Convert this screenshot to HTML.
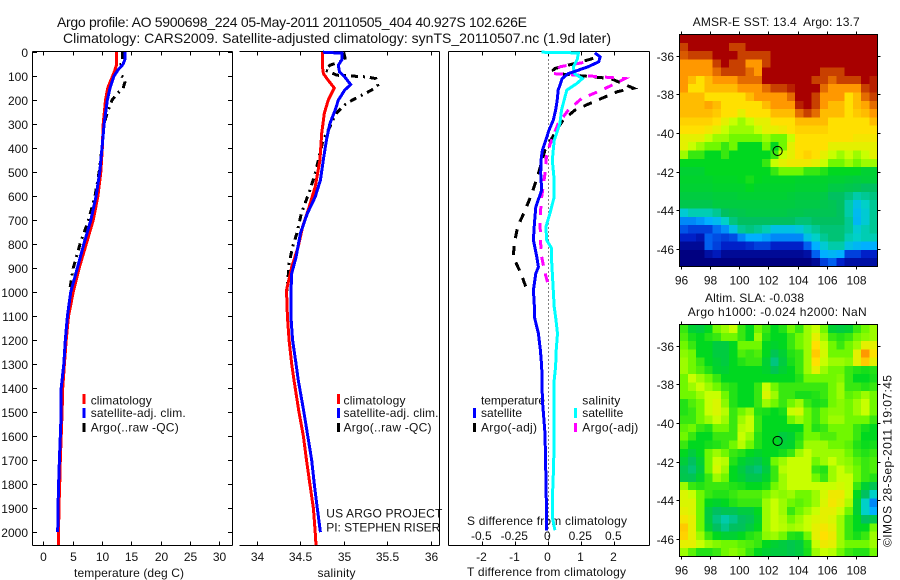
<!DOCTYPE html>
<html lang="en">
<head>
<meta charset="utf-8">
<title>Argo profile</title>
<style>
html,body{margin:0;padding:0;background:#fff;}
svg{display:block;font-family:"Liberation Sans",sans-serif;font-size:12px;fill:#000;}
text{fill:#111;}
</style>
</head>
<body>
<svg id="chart" width="900" height="580" viewBox="0 0 900 580" xmlns="http://www.w3.org/2000/svg">
<rect width="900" height="580" fill="#fff"/>
<text x="57" y="27" font-size="14" textLength="470" lengthAdjust="spacing">Argo profile: AO 5900698_224 05-May-2011 20110505_404 40.927S 102.626E</text>
<text x="63" y="43" font-size="14" textLength="548" lengthAdjust="spacing">Climatology: CARS2009. Satellite-adjusted climatology: synTS_20110507.nc (1.9d later)</text>
<text x="74" y="577" textLength="110" lengthAdjust="spacing">temperature (deg C)</text>
<text x="317.5" y="577" textLength="38" lengthAdjust="spacing">salinity</text>
<text x="467" y="576" textLength="159" lengthAdjust="spacing">T difference from climatology</text>
<text x="467" y="525" textLength="160" lengthAdjust="spacing">S difference from climatology</text>
<text x="326.3" y="517.5" textLength="116" lengthAdjust="spacing">US ARGO PROJECT</text>
<text x="326.3" y="531.5" textLength="114" lengthAdjust="spacing">PI: STEPHEN RISER</text>
<text x="692.7" y="26" textLength="167" lengthAdjust="spacing" xml:space="preserve">AMSR-E SST: 13.4  Argo: 13.7</text>
<text x="705" y="302" textLength="99" lengthAdjust="spacing">Altim. SLA: -0.038</text>
<text x="687.7" y="316" textLength="179" lengthAdjust="spacing">Argo h1000: -0.024 h2000: NaN</text>
<text transform="translate(891.5,547) rotate(-90)" textLength="172" lengthAdjust="spacing">©IMOS 28-Sep-2011 19:07:45</text>

<text x="90.7" y="404.3" textLength="61" lengthAdjust="spacing">climatology</text>
<text x="90.7" y="417" textLength="95" lengthAdjust="spacing">satellite-adj. clim.</text>
<text x="90.7" y="431.5" textLength="88" lengthAdjust="spacing">Argo(..raw -QC)</text>
<text x="343.5" y="404.3" textLength="62" lengthAdjust="spacing">climatology</text>
<text x="343.5" y="417" textLength="95" lengthAdjust="spacing">satellite-adj. clim.</text>
<text x="343.5" y="431.5" textLength="88" lengthAdjust="spacing">Argo(..raw -QC)</text>
<text x="481" y="404.3" textLength="64" lengthAdjust="spacing">temperature</text>
<text x="481" y="417" textLength="41" lengthAdjust="spacing">satellite</text>
<text x="481" y="431.5" textLength="56" lengthAdjust="spacing">Argo(-adj)</text>
<text x="582.3" y="404.3" textLength="38" lengthAdjust="spacing">salinity</text>
<text x="582.3" y="417" textLength="41" lengthAdjust="spacing">satellite</text>
<text x="582.3" y="431.5" textLength="56" lengthAdjust="spacing">Argo(-adj)</text>
<g id="layer"></g>
</svg>
<script>
// ---- axis tick values ----
const depthTicks = [0,100,200,300,400,500,600,700,800,900,1000,1100,1200,1300,1400,1500,1600,1700,1800,1900,2000];
const tempTicks = [0,5,10,15,20,25,30];
const salTicks = [34,34.5,35,35.5,36];
const salTickLabels = ['34','34.5','35','35.5','36'];
const diffTTicks = [-2,-1,0,1,2];
const diffSTicks = [-0.5,-0.25,0,0.25,0.5];
const diffSTickLabels = ['-0.5','-0.25','0','0.25','0.5'];
const lonTicks = [96,98,100,102,104,106,108];
const latTicks = [-36,-38,-40,-42,-44,-46];

// ---- temperature panel ----
const tClimDepth = [0,55,75,100,125,150,200,300,400,500,600,700,800,900,1000,1100,1200,1300,1400,1500,1600,1700,1800,1900,2000,2054];
const tClimValues = [12.44,12.44,12.2,11.8,11.36,10.97,10.6,10.2,10.05,9.8,9.3,8.5,7.3,6.1,5.1,4.3,3.9,3.6,3.3,3.2,3.05,2.9,2.8,2.65,2.6,2.55];
const tSatDepth = [0,30,50,75,100,150,200,300,400,500,600,700,800,900,1000,1100,1200,1300,1400,1500,1600,1700,1800,1900,2000];
const tSatValues = [13.9,13.9,13.6,12.7,12.05,11.36,10.9,10.35,10,9.6,9,8.1,6.9,5.8,4.67,4.1,3.75,3.5,3.05,3.05,2.9,2.75,2.6,2.5,2.45];
const tArgoDepth = [0,30,50,60,85,105,125,150,175,200,250,300,400,500,600,700,800,900,1000];
const tArgoValues = [13.5,13.5,13.3,12.5,12.2,13.75,13.9,13.6,12.5,11.7,10.9,10.35,10,9.5,8.8,7.7,6.25,5.1,4.45];

// ---- salinity panel ----
const sClimDepth = [0,60,89,117,149,200,255,338,450,561,645,728,811,895,992,1100,1200,1300,1367,1500,1600,1700,1800,1900,2000,2054];
const sClimValues = [34.753,34.753,34.765,34.82,34.89,34.82,34.775,34.745,34.725,34.67,34.6,34.525,34.475,34.4,34.34,34.35,34.37,34.4,34.426,34.484,34.535,34.57,34.61,34.65,34.67,34.68];
const sSatDepth = [0,4,30,54,82,103,135,158,200,242,297,367,436,533,603,672,755,853,922,1005,1100,1200,1300,1367,1500,1600,1700,1800,1900,2000];
const sSatValues = [34.76,34.98,34.98,34.937,34.95,35.01,35.08,35.01,34.937,34.9,34.84,34.8,34.77,34.73,34.67,34.58,34.5,34.45,34.4,34.39,34.39,34.41,34.45,34.476,34.54,34.585,34.63,34.66,34.695,34.73];
const sArgoDepth = [2,33,54,75,96,103,110,137,158,186,213,255,311,367,422,505,575,672,755,811,880,978,1000];
const sArgoValues = [35,35.02,34.84,34.79,34.92,35.26,35.37,35.39,35.32,35.17,35.03,34.91,34.84,34.76,34.725,34.67,34.61,34.51,34.46,34.41,34.37,34.35,34.34];

// ---- difference panel ----
const dTSatDepth = [3,19,40,61,82,89,110,158,200,242,283,325,367,408,450,506,575,644,714,783,853,895,922,992,1061,1103,1172,1242,1311,1450,1589,1728,1867,1992];
const dTSatValues = [1.41,1.57,1.53,1.2,0.76,0.6,0.42,0.3,0.27,0.22,0.15,0.02,-0.08,-0.18,-0.22,-0.23,-0.2,-0.38,-0.42,-0.45,-0.35,-0.3,-0.38,-0.45,-0.42,-0.42,-0.3,-0.24,-0.2,-0.18,-0.1,-0.08,-0.06,-0.05];
const dSSatDepth = [0,3,29,61,89,110,131,158,200,242,297,367,450,533,603,672,728,783,817,867,1061,1103,1172,1242,1311,1381,1450,1589,1728,1867,1936,1992];
const dSSatValues = [-0.05,0.228,0.22,0.19,0.198,0.258,0.215,0.14,0.12,0.1,0.088,0.045,0.03,0.045,0.045,0.012,-0.018,-0.012,0.025,0.025,0.045,0.055,0.07,0.06,0.055,0.042,0.042,0.045,0.04,0.03,0.03,0.05];
const dTArgoDepth = [26,40,68,75,89,102,110,122,150,164,192,217,242,283,325,408,506,589,658,728,797,853,922,985];
const dTArgoValues = [1.36,1,0.2,0.15,0.25,1.3,1.9,2.1,2.58,2.1,1.62,1.2,0.8,0.45,0.25,-0.1,-0.3,-0.5,-0.7,-0.93,-1.03,-1.06,-0.83,-0.66];
const dSArgoDepth = [43,61,89,96,103,110,124,158,193,242,297,367,422,506,603,686,783,853,908,971];
const dSArgoValues = [0.265,0.088,0.038,0.228,0.405,0.58,0.53,0.405,0.252,0.15,0.075,0.025,-0.012,-0.025,-0.05,-0.062,-0.06,-0.05,-0.03,0];

// ---- map: float position ----
const floatLon = [102.626];
const floatLat = [-40.927];

// ---- SST map: colour level per cell, north to south, west to east ----
const sstGrid = [
[12,12,12,12,12,12,12,12,12,12,12,12,12,12,12,12,12,12,12,12,12,12,12,12],
[11,12,12,12,12,12,11,11,12,12,12,12,12,12,12,12,12,12,12,12,12,12,12,12],
[10.7,11,11,11,12,12,12,11,11,11,11,12,12,12,12,12,12,12,12,12,12,12,12,12],
[10,10,10,10,11,12,11,11,10,10,11,12,12,12,12,12,12,12,12,12,12,12,12,12],
[10,10,10,10,10.5,11,11,11,10.5,10,12,12,12,12,12,12,12,11,11,11,12,12,12,12],
[10,9.5,9,9.5,10,10,10,10.5,10.5,10.5,12,12,12,12,12,12,11,11,10.5,11,11,11,12,11.5],
[10,9,9,9.5,9.5,9.5,9.5,10,10,10,10.5,11,11,11.5,12,12,12,10.5,10,10,10,10,11,11.5],
[9.5,9.5,9.5,9,9,9,9,9,9.5,10,10,10,10,10.5,12,12,11,10,10,10,9,9.5,10.5,11],
[9.5,9.5,9.5,9.8,9.5,9,9,9,9,9,9.5,10,10,10,11.5,12,11,10,9.5,9.5,9,9.5,9.8,10.5],
[9.5,9.5,9.5,9.5,9.3,9,9,8.5,9,9,9,9.5,9.5,9.5,10.5,11,10.5,9.5,9.5,9.5,9,9.3,9.5,10],
[9.2,9.2,9.2,9.2,9,8.5,8,7.5,8,8.5,8.5,9,9,9,9.5,9.5,9.5,9.5,9,9,9,9,9,9.5],
[9,9,9,8.8,8.5,8,7.5,7.5,7.5,8,8.5,8.5,8.7,9,9.2,9.2,9.2,9.2,9,9,9,9,9,9],
[8.5,8.5,8.5,8,7.5,7.5,7,7,7,7,7.5,7,7,8,9,9,9,9,9,9,9,8.8,8.8,8.8],
[8.5,8,7.5,7,7,6.5,7,6,6,6,7,6,7,8.5,9,9,9,9,8.5,8.5,8.5,8.5,8.5,8.5],
[7.5,6.5,6.5,6,6,6.5,6,6,6,6,6,6.5,8,8.5,9,9.2,9,8.5,8,7.5,8,7.5,8,8.5],
[6,6,6,6,6,6,6,6,6,6,6.5,8,8.5,8.7,8.7,8.7,8.5,8,7,7,7.5,7,7.5,7.5],
[5.7,5.7,5.7,6,6,6,6,6,6,6,6,6.5,7,7,7,6.5,6.5,6.3,6,6,6,6,5.7,5.7],
[5.8,5.8,5.8,5.8,5.9,5.9,5.9,6,6.2,6,5.9,5.9,5.9,5.9,5.8,5.8,5.8,5.8,5.7,5.7,5.6,5.5,5.6,5.6],
[5.7,5.7,5.7,5.7,5.8,5.8,5.8,5.8,6,5.8,5.8,5.8,5.8,5.8,5.7,5.7,5.7,5.7,5.4,5.4,5.3,5.2,5,5],
[5.5,5.5,5.5,5.5,5.6,5.6,5.6,5.7,5.7,5.7,5.7,5.7,5.7,5.6,5.5,5.5,5.5,5.4,5,5,4.7,4.3,4.5,4.7],
[5.3,5.3,5.3,5.3,5.5,5.5,5.5,5.5,5.5,5.5,5.5,5.5,5.5,5.5,5.4,5.4,5.4,5.3,5.2,5,4.3,3.5,4,4.5],
[3.8,4.2,4.2,4.2,4.5,5,5.2,5.3,5.4,5.4,5.4,5.4,5.4,5.3,5.3,5.2,5.2,5.2,5.2,5,4.3,3.3,3.8,4.5],
[2.5,2.5,2.7,3,3.3,4,4.7,5,5,5,5,5,5,5,4.8,4.8,5,5,5,5,4.5,3.2,3.8,4.5],
[1.8,1.5,1.5,1.5,2.2,2.6,3.5,4.5,4.7,4.5,4.2,3.5,3.5,3.5,3.7,4.2,4.5,4.8,4.8,4.8,4.5,3.8,4.2,4.5],
[1,1,0.7,2,1.7,1.5,1.7,2.5,3,3,2.8,2.5,2.5,2.5,2.5,3.5,4,4.5,4.8,4.8,4.2,4,4.2,4.2],
[0.3,0.3,0.3,2,1.5,1,1,1,1.2,1.5,1.5,1,1,1,1,2,3,3.8,4.3,4.3,3.5,3.2,3,3],
[0,0,0,0.5,0.8,0.3,0.3,0.3,0.3,0.3,0.3,0.3,0.3,0.3,0.3,0.5,2,3,3.2,3,1.5,1.5,1,1],
[0,0,0,0,0,0,0,0,0,0,0,0,0,0,0,0,0.3,1.5,2,1,0.5,0.5,0.5,0.5]
];

// ---- sea level anomaly map ----
const slaGrid = [
[6.5,5.7,5.5,6,7,7.5,8,6.5,6,7,6.5,6,6.3,7,6.5,7.5,8,7,5.7,5.5,5.7,6.5,7,7.5],
[6.7,6.2,6,6.3,6.5,7,7,6.5,6,7.5,6.3,6,6,6.5,7,7.5,8.5,7.5,6.5,6.3,6.5,7,7.3,7.5],
[7,6.5,6,6,5.5,5.5,6,7,7,7,6,5.8,6,6.5,7,7.5,9,8,7,6.5,7,7.5,8.5,8.5],
[7.3,7,6,6,5.5,5.5,6,6.7,6.5,6.7,6,5.2,5.7,6.3,6.5,7.5,9.3,8.2,7,7,7,8.5,10,9],
[7.5,7,6.5,6,5.7,5.5,6,6.3,6.5,6.5,5.7,4.7,5.5,6.2,6.5,7.5,9,8,7.5,7.5,7.3,8.5,9.3,8.5],
[7.5,7,6.7,6.3,5.8,5.7,6,6,6,6,5.8,5.2,5.7,6,6.5,7.5,8.5,7.5,7,7,6.5,6.3,6.2,6.3],
[7,8,7.5,7,6.5,6,6,6,6,6,6,6,6,6,6.3,7,7,7,7,7.2,6.5,6,6,6.2],
[7,7.5,8,7.5,7,6.5,6.3,6,6,6.5,8,7,6.5,6.5,6.5,6.5,6.5,6.5,7,7.5,6.5,6.5,6.3,6.5],
[7,7,7.5,8,8,7,6.3,6,6,6.5,8.3,7.5,6.5,6.5,6.2,6.2,6.3,6.5,7,7.5,6.8,7,7.5,7],
[6.3,6.7,7,8,8.3,7.3,6.3,6,6,6.5,7.5,7,6.5,7,7.5,6.5,6.2,6.3,7,7.3,7,7.5,8,7],
[6.3,6.5,7,8,8.3,7.8,6.5,7,7.5,6.3,6.2,6,6.2,8,8.2,7,6.5,7,7.3,7.3,7,7.5,8,7],
[6.5,6.5,7,7.5,8,7.5,6.5,7.5,8,6.5,6,6,6,7,7.5,7,6.5,7,7.5,7.5,7,7,7,6.5],
[6.8,7,6.5,6.3,7,7,6.5,7.8,8,6.5,6,6,6,6,6,7,6.3,6.5,7,7,7,6.5,6.2,6],
[7,6.5,6,6,6.5,6.5,6.5,8,7.5,6.3,6,6,5.5,5.7,6.3,7,7,6.7,6.7,7,7,6.5,6,6],
[6.5,6,6,6.2,6.3,6.5,7,7.8,7,6.3,6,6,5.7,5.8,6.5,7.5,7.5,7.5,7,7,6.8,6.3,6.1,6.2],
[6,5.5,6,7,7.5,7,6.5,6.3,6,5.8,6,6,6.2,6.5,7.5,8,7.5,7.5,7.5,7.5,7,6.5,6.3,6.5],
[5.6,5,5.7,7,8,7.8,6.3,5.8,5.5,5.3,5.8,7,7.5,8,8,8,7,7.5,8,7.5,7.3,6.8,6.5,6.7],
[5.2,4.8,5.5,7,8.2,7.5,6,5.5,5,4.8,5.5,6.5,7.8,8,8,8,6.5,6.3,7.5,8,7.5,7,6.5,6.7],
[5.3,5.2,5.8,6.5,7.5,7,6,5.7,5.3,5.3,5.8,6.5,7.5,8,8,8,7,6.5,7.5,8,8,7,6.5,6.3],
[7.5,6.5,6.3,6.5,6.5,6.5,6.3,6.2,6,6,6.2,7,7.5,8,8,8,8,8,8,8.2,8,6.5,5.7,5.2],
[8.3,8,7,6.5,6.3,6.3,6.5,6.7,6.7,6.7,7,7.5,7.3,7.5,7,7,7.5,8.2,8.7,8.7,8,6,5,4],
[8.3,8.3,7,6,5.8,6,6.3,6.5,6.5,6.5,7.5,8,7.5,7,6.8,7,7.5,8.3,8.8,8.5,7.7,5.7,4,2.5],
[8.5,8.3,7,5.5,5,5.2,5.2,5.5,5.5,6,7.5,8,7.5,6.5,7,7.5,8,8.5,8.5,8,7,5.7,4,3],
[8.8,8.5,7,5.5,4.7,4.3,4.6,5,5.2,5.8,7.5,8,7.7,7,7.5,8,8.3,8.5,8.3,7.5,6.5,6,5,5.3],
[9.3,8.5,7,5.7,5,4.6,5,5.1,5.5,6,7.5,8,7.8,7.5,7.7,8,8.5,8.8,8.5,7.5,6.5,6,6,7],
[9.2,8.5,7.5,6.5,6,5.7,5.7,6,6.3,6.5,7.3,7.5,7,6.3,6.2,7,8.5,9,8.7,7.5,6.5,6.2,6.5,7.5],
[8.5,8.5,8,7.5,7.2,7,7,6.8,6.7,6.5,6,5.7,5.5,5.3,5.5,6.3,8,8.7,8.5,7.5,7,7,7,7.5],
[7.5,6.8,6.3,6.3,6.5,7,7.3,7,6.5,6,5.7,5.5,5.5,5.3,5.5,6.2,7.5,8,7.8,7,6.5,6.3,6.3,7]
];

// ---- drawing ----
const SVGNS = 'http://www.w3.org/2000/svg';
const layer = document.getElementById('layer');
function node(tag, attrs, parent) {
  const el = document.createElementNS(SVGNS, tag);
  for (const k in attrs) el.setAttribute(k, attrs[k]);
  (parent || layer).appendChild(el);
  return el;
}
const yDepth = d => 52.2 + 0.24 * d;
const xTemp = v => 43.3 + 5.87 * v;
const xSal = v => 257 + 86.8 * (v - 34);
const xDiffT = v => 548.3 + 33 * v;
const xDiffS = v => 548.3 + 132 * v;
const TOP = 51.5, BOT = 545.5;

function axisLine(name, x1, y1, x2, y2) {
  const el = node('line', {x1: x1, y1: y1, x2: x2, y2: y2, stroke: '#000', 'stroke-width': 1, 'shape-rendering': 'crispEdges'});
  
  
  return el;
}
function label(name, str, x, y, anchor) {
  const el = node('text', {x: x, y: y, 'text-anchor': anchor || 'middle'});
  el.textContent = str;
  
  
  return el;
}
function profile(name, depths, values, xf, color, dash) {
  const pts = depths.map((d, i) => xf(values[i]).toFixed(1) + ',' + yDepth(d).toFixed(1)).join(' ');
  const attrs = {points: pts, fill: 'none', stroke: color, 'stroke-width': 3, 'shape-rendering': 'crispEdges'};
  if (dash) attrs['stroke-dasharray'] = dash;
  const el = node('polyline', attrs);
  
  
  return el;
}
function legendBar(name, x, y, h, color) {
  const el = node('rect', {x: x, y: y, width: 3, height: h, fill: color, 'shape-rendering': 'crispEdges'});
  
  
  return el;
}

// panel frames
axisLine('temperature-panel-top', 32.5, TOP, 232.5, TOP);
axisLine('temperature-panel-bottom', 32.5, BOT, 232.5, BOT);
axisLine('temperature-panel-left', 32.5, TOP, 32.5, BOT);
axisLine('temperature-panel-right', 232.5, TOP, 232.5, BOT);
axisLine('salinity-panel-top', 239.5, TOP, 439.5, TOP);
axisLine('salinity-panel-bottom', 239.5, BOT, 439.5, BOT);
axisLine('salinity-panel-right', 439.5, TOP, 439.5, BOT);
axisLine('difference-panel-top', 448.5, TOP, 649.5, TOP);
axisLine('difference-panel-bottom', 448.5, BOT, 649.5, BOT);
axisLine('difference-panel-left', 448.5, TOP, 448.5, BOT);
axisLine('difference-panel-right', 649.5, TOP, 649.5, BOT);

// depth ticks
depthTicks.forEach(d => {
  const y = Math.round(yDepth(d)) + 0.5;
  axisLine('depth-tick-left', 32.5, y, 37, y);
  axisLine('depth-tick-right', 228, y, 232.5, y);
  label('depth-tick-label', String(d), 28, y + 4.5, 'end');
});
// x ticks
tempTicks.forEach(v => {
  const x = Math.round(xTemp(v)) + 0.5;
  axisLine('temperature-tick-top', x, TOP, x, TOP + 4);
  axisLine('temperature-tick-bottom', x, BOT - 4, x, BOT);
  label('temperature-tick-label', String(v), x, 561);
});
salTicks.forEach((v, i) => {
  const x = Math.round(xSal(v)) + 0.5;
  axisLine('salinity-tick-top', x, TOP, x, TOP + 4);
  axisLine('salinity-tick-bottom', x, BOT - 4, x, BOT);
  label('salinity-tick-label', salTickLabels[i], x, 561);
});
diffTTicks.forEach(v => {
  const x = Math.round(xDiffT(v)) + 0.5;
  axisLine('t-difference-tick-top', x, TOP, x, TOP + 4);
  axisLine('t-difference-tick-bottom', x, BOT - 4, x, BOT);
  label('t-difference-tick-label', String(v), x - 1, 561);
});
diffSTicks.forEach((v, i) => {
  label('s-difference-tick-label', diffSTickLabels[i], xDiffS(v) - 1, 540);
});

// zero line
const zeroLine = node('line', {x1: xDiffT(0), y1: TOP, x2: xDiffT(0), y2: BOT, stroke: '#000', 'stroke-width': 1, 'stroke-dasharray': '1 3', 'shape-rendering': 'crispEdges'});



// series
const DASHDOT = '7 5 2 5', DASH = '9 8';
profile('temperature-argo-line', tArgoDepth, tArgoValues, xTemp, '#000', DASHDOT);
profile('temperature-climatology-line', tClimDepth, tClimValues, xTemp, '#f00');
profile('temperature-satellite-line', tSatDepth, tSatValues, xTemp, '#00f');
profile('salinity-argo-line', sArgoDepth, sArgoValues, xSal, '#000', DASHDOT);
profile('salinity-climatology-line', sClimDepth, sClimValues, xSal, '#f00');
profile('salinity-satellite-line', sSatDepth, sSatValues, xSal, '#00f');
profile('t-difference-argo-line', dTArgoDepth, dTArgoValues, xDiffT, '#000', DASH);
profile('s-difference-argo-line', dSArgoDepth, dSArgoValues, xDiffS, '#f0f', DASH);
profile('s-difference-satellite-line', dSSatDepth, dSSatValues, xDiffS, '#0ff');
profile('t-difference-satellite-line', dTSatDepth, dTSatValues, xDiffT, '#00f');

// legends
legendBar('legend-t-climatology-swatch', 82.5, 394, 10, '#f00');
legendBar('legend-t-satellite-swatch', 82.5, 408, 10, '#00f');
legendBar('legend-t-argo-swatch', 82.5, 423, 9, '#000');
legendBar('legend-s-climatology-swatch', 337, 394, 10, '#f00');
legendBar('legend-s-satellite-swatch', 337, 408, 10, '#00f');
legendBar('legend-s-argo-swatch', 337, 423, 9, '#000');
legendBar('legend-diff-t-satellite-swatch', 473, 408, 10, '#00f');
legendBar('legend-diff-t-argo-swatch', 473, 423, 9, '#000');
legendBar('legend-diff-s-satellite-swatch', 574, 408, 10, '#0ff');
legendBar('legend-diff-s-argo-swatch', 574, 423, 9, '#f0f');

// maps
const MAP_L = 679.5, MAP_R = 877.5;
const xLon = lon => 681 + 14.58 * (lon - 96);
const colorStops = ['#000080','#0020c8','#0060f0','#00b0ff','#00d0c8','#00c060','#00d820','#70f800','#c8ff00','#ffe000','#ff9800','#c84000','#a80000'];
function rgb(h) { return [1,3,5].map(i => parseInt(h.substr(i,2),16)); }
function levelColor(v) {
  const i = Math.max(0, Math.min(colorStops.length - 2, Math.floor(v)));
  const f = Math.max(0, Math.min(1, v - i));
  const a = rgb(colorStops[i]), b = rgb(colorStops[i+1]);
  return 'rgb(' + a.map((c, k) => Math.round(c + (b[k] - c) * f)).join(',') + ')';
}
function drawMap(mapName, grid, lat36Y, top, bottom) {
  const yLat = lat => lat36Y + 19.33 * (-36 - lat);
  const rows = grid.length, cols = grid[0].length;
  const cw = (MAP_R - MAP_L) / cols, ch = (bottom - top) / rows;
  const g = node('g', {'shape-rendering': 'crispEdges'});
  
  
  grid.forEach((row, r) => row.forEach((v, c) => {
    const cell = node('rect', {x: (MAP_L + c * cw).toFixed(2), y: (top + r * ch).toFixed(2), width: (cw + 0.6).toFixed(2), height: (ch + 0.6).toFixed(2), fill: levelColor(v)}, g);
    
    
  }));
  const frame = node('rect', {x: MAP_L, y: top, width: MAP_R - MAP_L, height: bottom - top, fill: 'none', stroke: '#000', 'stroke-width': 1, 'shape-rendering': 'crispEdges'});
  
  
  lonTicks.forEach(lon => {
    const x = Math.round(xLon(lon)) + 0.5;
    axisLine(mapName + '-lon-tick', x, top - 3, x, top);
    axisLine(mapName + '-lon-tick', x, bottom, x, bottom + 3);
    label(mapName + '-lon-label', String(lon), x, bottom + 18);
  });
  latTicks.forEach(lat => {
    const y = Math.round(yLat(lat)) + 0.5;
    axisLine(mapName + '-lat-tick', MAP_L - 3, y, MAP_L, y);
    axisLine(mapName + '-lat-tick', MAP_R, y, MAP_R + 3, y);
    label(mapName + '-lat-label', String(lat), 674, y + 4.5, 'end');
  });
  const marker = node('circle', {cx: xLon(floatLon[0]), cy: yLat(floatLat[0]), r: 4.6, fill: 'none', stroke: '#000', 'stroke-width': 1});
  
  
}
drawMap('sst-map', sstGrid, 55.7, 34.5, 266.5);
drawMap('sla-map', slaGrid, 345.7, 324.5, 556.5);
</script>
</body>
</html>
